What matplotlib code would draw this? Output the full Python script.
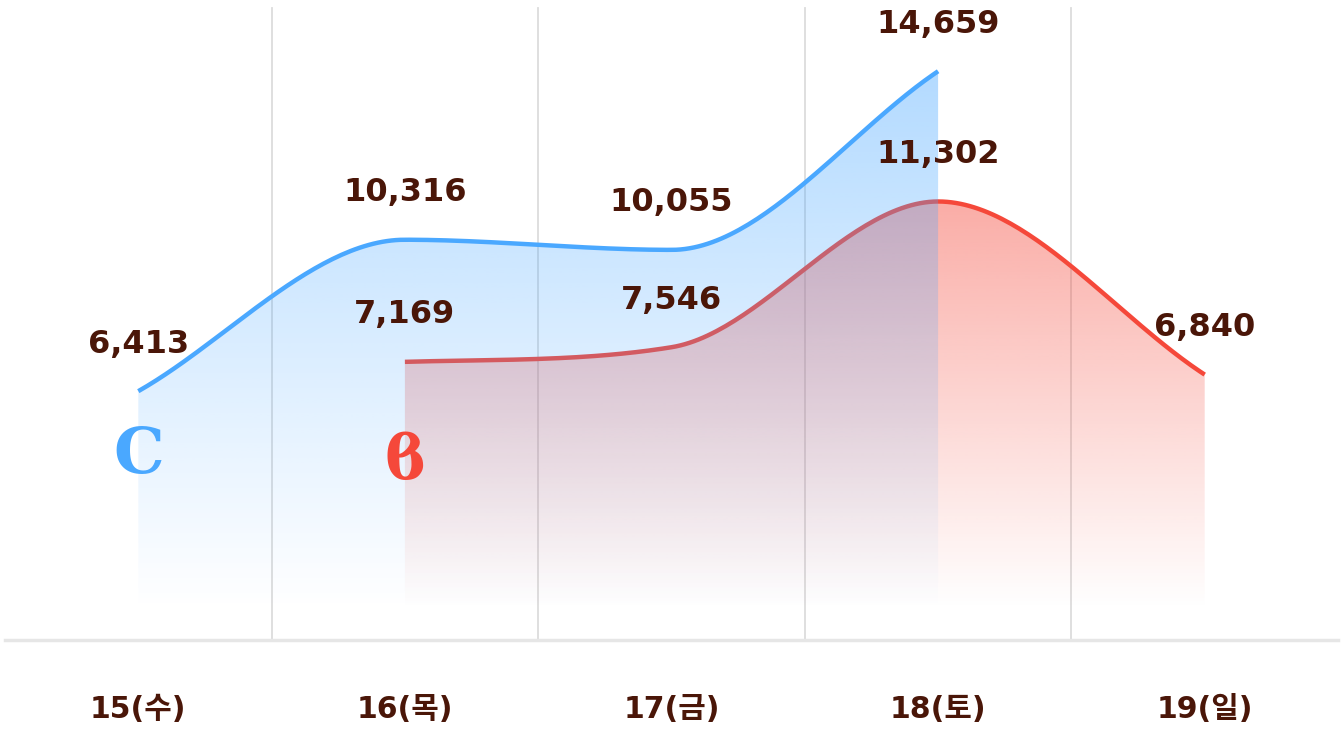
import matplotlib
matplotlib.use('Agg')
import matplotlib.pyplot as plt
import numpy as np
from matplotlib.patches import Polygon

plt.rcParams['font.family'] = ['DejaVu Sans', 'Noto Sans CJK KR']

# data
days = ['15(수)', '16(목)', '17(금)', '18(토)', '19(일)']
blue_x = [0, 1, 2, 3]
blue_vals = [6413, 10316, 10055, 14659]
red_x = [1, 2, 3, 4]
red_vals = [7169, 7546, 11302, 6840]

BLUE = '#4aa8ff'
RED = '#f5483a'
TXT = '#4a1608'


def monotone(xs, ys, n=60):
    # monotone cubic, Chart.js style (secant slopes at the ends)
    xs = np.asarray(xs, float)
    ys = np.asarray(ys, float)
    h = np.diff(xs)
    d = np.diff(ys) / h
    m = np.zeros(len(xs))
    m[0], m[-1] = d[0], d[-1]
    for i in range(1, len(xs) - 1):
        m[i] = 0 if np.sign(d[i - 1]) != np.sign(d[i]) else (d[i - 1] + d[i]) / 2
    for i in range(len(d)):
        if d[i] == 0:
            m[i] = m[i + 1] = 0
            continue
        a, b = m[i] / d[i], m[i + 1] / d[i]
        sq = a * a + b * b
        if sq <= 9:
            continue
        tau = 3 / np.sqrt(sq)
        m[i] = a * tau * d[i]
        m[i + 1] = b * tau * d[i]
    px, py = [], []
    for i in range(len(xs) - 1):
        u = np.linspace(0, 1, n)
        h00 = 2 * u**3 - 3 * u**2 + 1
        h10 = u**3 - 2 * u**2 + u
        h01 = -2 * u**3 + 3 * u**2
        h11 = u**3 - u**2
        px.append(xs[i] + u * h[i])
        py.append(h00 * ys[i] + h10 * h[i] * m[i] + h01 * ys[i + 1] + h11 * h[i] * m[i + 1])
    return np.concatenate(px), np.concatenate(py)


fig = plt.figure(figsize=(13.43, 7.31), dpi=100)
ax = fig.add_axes([5 / 1343, 91 / 731, 1333 / 1343, 640 / 731])
ax.set_xlim(-0.5, 4.5)
YMAX = 16495
ax.set_ylim(0, YMAX)
ax.axis('off')

# grid lines between categories
for gx in [0.5, 1.5, 2.5, 3.5]:
    ax.plot([gx, gx], [0, 16290], color='#dcdcdc', lw=1.3, zorder=1)
ax.plot([-0.5, 4.5], [0, 0], color='#e6e6e6', lw=2.5, zorder=1, clip_on=False)

FILL_BOTTOM = 800


def grad_fill(xs, ys, color, zorder, amax=0.45):
    cx, cy = monotone(xs, ys)
    verts = np.column_stack([np.r_[cx, cx[-1], cx[0]], np.r_[cy, FILL_BOTTOM, FILL_BOTTOM]])
    poly = Polygon(verts, closed=True, facecolor='none', edgecolor='none')
    ax.add_patch(poly)
    rgb = matplotlib.colors.to_rgb(color)
    top = max(ys)
    yy = np.linspace(YMAX, 0, 400)
    a = np.clip((yy - FILL_BOTTOM) / (top - FILL_BOTTOM), 0, 1) * amax
    img = np.zeros((400, 2, 4))
    img[..., 0], img[..., 1], img[..., 2] = rgb
    img[..., 3] = a[:, None]
    im = ax.imshow(img, extent=[-0.5, 4.5, 0, YMAX], aspect='auto', zorder=zorder,
                   interpolation='bilinear')
    im.set_clip_path(poly)
    return cx, cy


rx, ry = grad_fill(red_x, red_vals, RED, 2)
ax.plot(rx, ry, color=RED, lw=3.2, zorder=3, solid_capstyle='butt')
bx, by = grad_fill(blue_x, blue_vals, BLUE, 4, amax=0.42)
ax.plot(bx, by, color=BLUE, lw=3.2, zorder=5, solid_capstyle='butt')

# value labels
for x, v in zip(blue_x, blue_vals):
    ax.annotate(f'{v:,}', (x, v), xytext=(0, 47), textcoords='offset pixels',
                ha='center', va='center', fontsize=23, fontweight='bold', color=TXT, zorder=6)
for x, v in zip(red_x, red_vals):
    ax.annotate(f'{v:,}', (x, v), xytext=(0, 47), textcoords='offset pixels',
                ha='center', va='center', fontsize=23, fontweight='bold', color=TXT, zorder=6)

# logo marks
ax.text(blue_x[0], 4750, 'C', ha='center', va='center', fontsize=46, fontweight='bold',
        family='DejaVu Serif', color=BLUE, zorder=6)
ax.text(red_x[0], 4600, 'ϐ', ha='center', va='center', fontsize=44, fontweight='bold',
        family='DejaVu Serif', color=RED, zorder=6)

# day labels
for i, d in enumerate(days):
    ax.text(i, -1800, d, ha='center', va='center', fontsize=21.5, fontweight='bold',
            color=TXT, clip_on=False)

fig.savefig('out.png', dpi=100, facecolor='white')
